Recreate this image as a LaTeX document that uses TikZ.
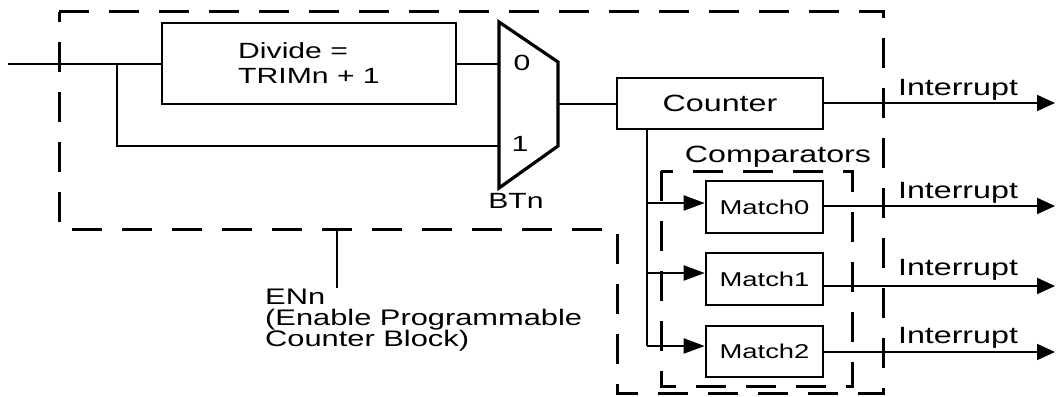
\documentclass[tikz,border=0pt]{standalone}
\usepackage{fontspec}
\setmainfont{Liberation Sans}[FakeStretch=1.37]
\usetikzlibrary{arrows.meta}
\begin{document}
\begin{tikzpicture}[x=1pt,y=-1pt,
  box/.style={draw, line width=2.6pt, inner sep=0pt, font=\fontsize{23.5}{24}\selectfont},
  mbox/.style={box, minimum width=117pt, font=\fontsize{20}{20}\selectfont},
  wire/.style={line width=2pt},
  arr/.style={wire, -{Triangle[length=18pt,width=16pt]}},
  inarr/.style={wire, -{Triangle[length=21pt,width=15pt]}},
  dashbox/.style={line width=3pt, dash pattern=on 30pt off 20pt},
  lbl/.style={inner sep=0pt, font=\fontsize{23.5}{24}\selectfont},
  slbl/.style={inner sep=0pt, font=\fontsize{22}{20}\selectfont}]
\useasboundingbox (0,0) rectangle (1056,396);
\fill[white] (0,0) rectangle (1056,396);

% dashed enclosures
\draw[dashbox] (59,12) -- (883,12) -- (883,393) -- (617,393) -- (617,229) -- (59,229) -- cycle;
\draw[dashbox] (661,171) rectangle (852,386);

% blocks
\node[box, minimum width=294pt, minimum height=81pt, align=left, font=\fontsize{22}{25}\selectfont] (div) at (309,63.5) {Divide =\\TRIMn + 1};
\node[box, minimum width=206pt, minimum height=51pt] (cnt) at (720,103.5) {Counter};
\node[mbox, minimum height=52pt] (m0) at (764.5,207) {Match0};
\node[mbox, minimum height=52pt] (m1) at (764.5,279) {Match1};
\node[mbox, minimum height=51pt] (m2) at (764.5,351.5) {Match2};

% multiplexer
\coordinate (muxa) at (499,22);
\coordinate (muxb) at (558,62);
\coordinate (muxc) at (558,146);
\coordinate (muxd) at (499,188);
\coordinate (mux0) at (499,64);
\coordinate (mux1) at (499,146);
\coordinate (muxo) at (558,104);
\draw[line width=3.2pt, line join=miter] (muxa) -- (muxb) -- (muxc) -- (muxd) -- cycle;
\node[slbl] (l0) at (522,63) {0};
\node[slbl] (l1) at (520,144) {1};
\node[slbl] (btn) at (516,201) {BTn};

% input
\coordinate (in) at (8,64);
\coordinate (br) at (117,64);
\coordinate (brd) at (117,146);
\draw[wire] (in) -- (div.west |- in);
\draw[wire] (br) -- (brd) -- (mux1);
\draw[wire] (div.east |- mux0) -- (mux0);
\draw[wire] (muxo) -- (cnt.west |- muxo);

% counter outputs
\coordinate (o0) at (1055,103);
\draw[arr] (cnt.east |- o0) -- (o0);
\coordinate (bt) at (647,129);
\coordinate (b0) at (647,203);
\coordinate (b1) at (647,273);
\coordinate (b2) at (647,346);
\draw[wire] (bt) -- (b2);
\draw[inarr] (b0) -- (m0.west |- b0);
\draw[inarr] (b1) -- (m1.west |- b1);
\draw[inarr] (b2) -- (m2.west |- b2);

% match outputs
\coordinate (o1) at (1055,206);
\coordinate (o2) at (1055,286);
\coordinate (o3) at (1055,352);
\draw[arr] (m0.east |- o1) -- (o1);
\draw[arr] (m1.east |- o2) -- (o2);
\draw[arr] (m2.east |- o3) -- (o3);

\node[lbl, anchor=base] (i0) at (958,95) {Interrupt};
\node[lbl, anchor=base] (i1) at (958,198) {Interrupt};
\node[lbl, anchor=base] (i2) at (958,275) {Interrupt};
\node[lbl, anchor=base] (i3) at (958,343) {Interrupt};
\node[lbl, anchor=base] (cmp) at (778,162) {Comparators};

% enable
\coordinate (et) at (337,229);
\coordinate (eb) at (337,288);
\draw[line width=2.6pt] (et) -- (eb);
\node[inner sep=0pt, anchor=north west, align=left, font=\fontsize{22.5}{21}\selectfont] (enn) at (265,289) {ENn\\(Enable Programmable\\Counter Block)};
\end{tikzpicture}
\end{document}
